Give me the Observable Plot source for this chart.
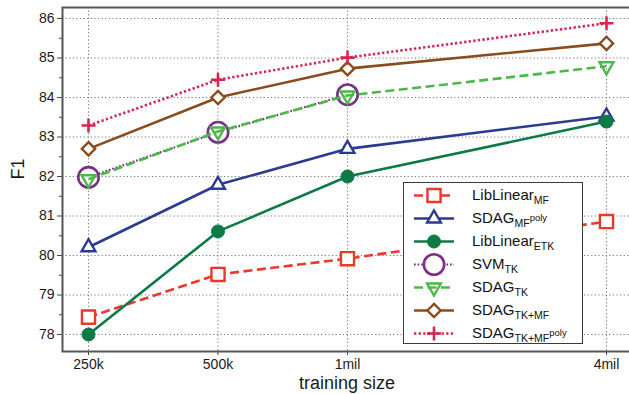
<!DOCTYPE html>
<html>
<head>
<meta charset="utf-8">
<script src="https://cdn.jsdelivr.net/npm/d3@7"></script>
<script src="https://cdn.jsdelivr.net/npm/@observablehq/plot@0.6"></script>
<style>
  body { margin: 0; background: #fff; }
  #wrap { position: relative; width: 629px; height: 394px; font-family: "Liberation Sans", Arial, sans-serif; }
  #legend { position: absolute; left: 403px; top: 182px; width: 180px; height: 162px; border: 1.5px solid #3a3a3a; background: #fff; box-sizing: border-box; }
  .row { position: absolute; left: 0; height: 23px; width: 178px; }
  .row svg { position: absolute; left: 7px; top: 0; }
  .row .lbl { position: absolute; left: 68px; top: 2px; font-size: 15px; color: #111; white-space: nowrap; line-height: 18px; }
  .lbl sub { font-size: 10.5px; vertical-align: -4px; }
  .lbl sub sup { font-size: 9.5px; vertical-align: 6px; }
</style>
</head>
<body>
<div id="wrap"><div id="chart"></div><div id="legend"></div></div>
<script>
// ---- data ----
const trainingSize = [250000, 500000, 1000000, 4000000];
const xTickLabels = ["250k", "500k", "1mil", "4mil"];
const yTicks = [78, 79, 80, 81, 82, 83, 84, 85, 86];
const yMinorTicks = [78.5, 79.5, 80.5, 81.5, 82.5, 83.5, 84.5, 85.5];

const libLinearMF   = [78.44, 79.52, 79.92, 80.86];
const sdagMFpoly    = [80.21, 81.79, 82.70, 83.52];
const libLinearETK  = [78.00, 80.61, 82.00, 83.39];
const svmTK         = [81.98, 83.12, 84.07];
const sdagTK        = [81.93, 83.14, 84.05, 84.79];
const sdagTKMF      = [82.70, 84.00, 84.73, 85.37];
const sdagTKMFpoly  = [83.29, 84.45, 85.01, 85.88];

const seriesNames = [
  'LibLinear<sub>MF</sub>',
  'SDAG<sub>MF<sup>poly</sup></sub>',
  'LibLinear<sub>ETK</sub>',
  'SVM<sub>TK</sub>',
  'SDAG<sub>TK</sub>',
  'SDAG<sub>TK+MF</sub>',
  'SDAG<sub>TK+MF<sup>poly</sup></sub>'
];
const seriesValues = [libLinearMF, sdagMFpoly, libLinearETK, svmTK, sdagTK, sdagTKMF, sdagTKMFpoly];

// ---- styles ----
const triangleDown = {
  draw(context, size) {
    const s = Math.sqrt(size) * 0.6824, t = s / 2, u = s * Math.sqrt(3) / 2;
    context.moveTo(0, s); context.lineTo(u, -t); context.lineTo(-u, -t); context.closePath();
  }
};
const styles = [
  {color: "#e8392b", dash: "9,4.5", width: 2.6, symbol: d3.symbolSquare, r: 7.4, fill: "white", sw: 2.4},
  {color: "#2b3a93", dash: null, width: 2.6, symbol: d3.symbolTriangle2, r: 6.6, fill: "white", sw: 2.4},
  {color: "#0c7a45", dash: null, width: 2.6, symbol: d3.symbolCircle, r: 6.5, fill: "#0c7a45", sw: 1},
  {color: "#7b2f88", dash: "1.7,1.9", width: 2.2, symbol: d3.symbolCircle, r: 10.2, fill: "white", sw: 2.6},
  {color: "#4cb848", dash: "9,4.5", width: 2.6, symbol: triangleDown, r: 6.6, fill: "none", sw: 2.4},
  {color: "#8a4c1c", dash: null, width: 2.6, symbol: d3.symbolDiamond2, r: 6.0, fill: "white", sw: 2.4},
  {color: "#d6264e", dash: "2.3,2.3", width: 2.6, symbol: d3.symbolPlus, r: 4.6, fill: "none", sw: 2.6}
];

const marks = [
  Plot.gridY(yTicks, {stroke: "#777", strokeOpacity: 1, strokeWidth: 1, strokeDasharray: "1.2,2.4"}),
  Plot.gridX(trainingSize, {stroke: "#777", strokeOpacity: 1, strokeWidth: 1, strokeDasharray: "1.2,2.4"}),
  Plot.axisY(yTicks, {anchor: "left", tickSize: 5, tickPadding: 3, fontSize: 14, label: null, stroke: "#444", fill: "#1a1a1a"}),
  Plot.axisY(yMinorTicks, {anchor: "left", tickSize: 3, label: null, tickFormat: () => "", stroke: "#444"}),
  Plot.axisX(trainingSize, {anchor: "bottom", tickSize: 4, tickPadding: 4, fontSize: 14, label: null, stroke: "#444", fill: "#1a1a1a",
    tickFormat: d => xTickLabels[trainingSize.indexOf(d)]}),
  Plot.text(["training size"], {frameAnchor: "bottom", dy: 37, fontSize: 18, fill: "#1a1a1a"}),
  Plot.text(["F1"], {frameAnchor: "left", dx: -44, rotate: -90, fontSize: 18, fill: "#1a1a1a"})
];

seriesValues.forEach((vals, k) => {
  const st = styles[k];
  const data = vals.map((v, i) => ({x: trainingSize[i], y: v}));
  marks.push(Plot.line(data, {x: "x", y: "y", stroke: st.color, strokeWidth: st.width,
    strokeDasharray: st.dash || undefined, strokeLinecap: "butt", strokeLinejoin: "miter"}));
  marks.push(Plot.dot(data, {x: "x", y: "y", symbol: st.symbol, r: st.r, stroke: st.color, fill: st.fill, strokeWidth: st.sw}));
});
marks.push(Plot.frame({stroke: "#555", strokeWidth: 2}));

const chart = Plot.plot({
  width: 629,
  height: 394,
  marginLeft: 62,
  marginRight: -2,
  marginTop: 7,
  marginBottom: 43,
  style: {fontFamily: "'Liberation Sans', Arial, sans-serif", background: "white"},
  x: {type: "log", domain: [250000, 4000000], range: [88, 606]},
  y: {domain: [78, 86], range: [334, 18]},
  marks
});
document.getElementById("chart").appendChild(chart);

// ---- legend ----
const legend = d3.select("#legend");
seriesNames.forEach((name, k) => {
  const st = styles[k];
  const row = legend.append("div").attr("class", "row").style("top", (1 + 23 * k) + "px");
  const svg = row.append("svg").attr("width", 46).attr("height", 23);
  svg.append("line").attr("x1", 3).attr("x2", 43).attr("y1", 11.5).attr("y2", 11.5)
    .attr("stroke", st.color).attr("stroke-width", st.width).attr("stroke-dasharray", st.dash);
  svg.append("path").attr("transform", "translate(23,11.5)")
    .attr("d", d3.symbol(st.symbol, Math.PI * st.r * st.r)())
    .attr("stroke", st.color).attr("stroke-width", st.sw)
    .attr("fill", st.fill === "none" ? "none" : st.fill);
  row.append("div").attr("class", "lbl").html(name);
});
</script>
</body>
</html>
